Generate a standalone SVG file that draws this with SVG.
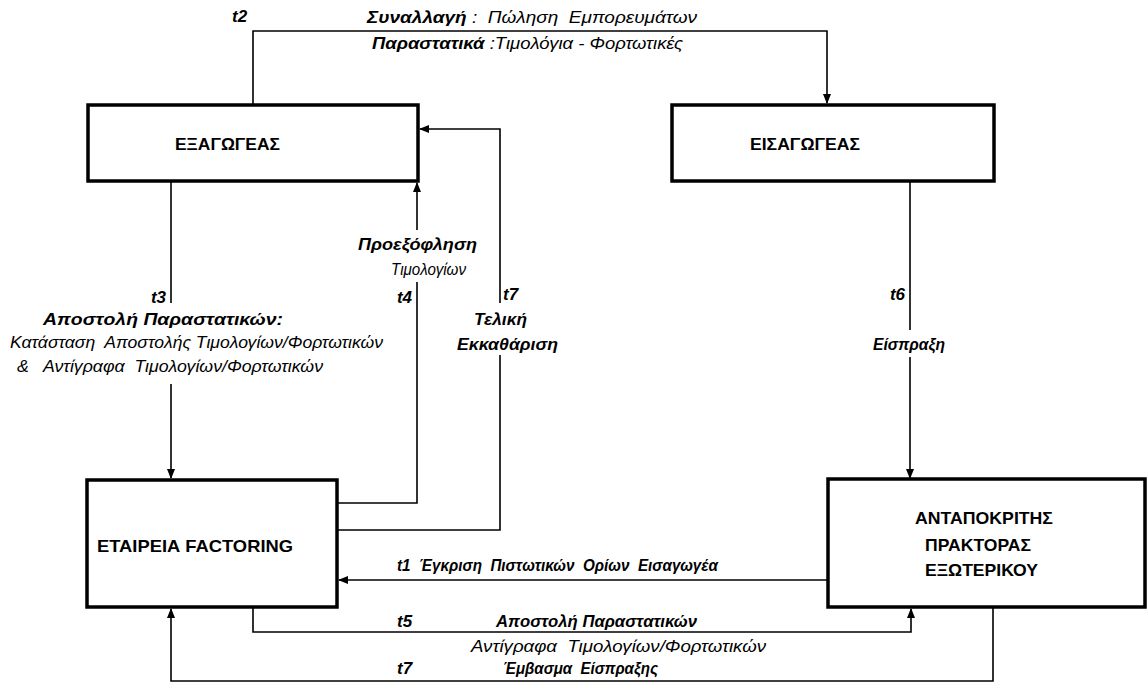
<svg xmlns="http://www.w3.org/2000/svg" width="1148" height="684" viewBox="0 0 1148 684">
<style>
text{font-family:"Liberation Sans",Arial,sans-serif;fill:#000;white-space:pre}
.box{fill:#fff;stroke:#000;stroke-width:3.5}
.bt{font-size:16.5px;font-weight:bold}
.lb{font-size:17px;font-style:italic;font-weight:bold}
.li{font-size:17px;font-style:italic}
.c{fill:none;stroke:#000;stroke-width:1.6}
</style>
<defs>
<marker id="ah" markerWidth="10" markerHeight="8" refX="9" refY="4" orient="auto" markerUnits="userSpaceOnUse">
<path d="M0,0 L10,4 L0,8 Z" fill="#000"/>
</marker>
</defs>
<rect width="1148" height="684" fill="#fff"/>
<g id="connectors">
<path class="c" d="M253,105 V31 H827 V103" marker-end="url(#ah)"/>
<path class="c" d="M171,181 V303 M171,384 V478" marker-end="url(#ah)"/>
<path class="c" d="M337,503 H417 V282 M417,230 V183" marker-end="url(#ah)"/>
<path class="c" d="M500,355 V530 H337 M500,303 V129 H420" marker-end="url(#ah)"/>
<path class="c" d="M910,181 V330 M910,357 V478" marker-end="url(#ah)"/>
<path class="c" d="M828,580 H339" marker-end="url(#ah)"/>
<path class="c" d="M253,607 V632 H911 V609" marker-end="url(#ah)"/>
<path class="c" d="M993,607 V681 H171 V609" marker-end="url(#ah)"/>
</g>
<g id="exagogeas">
<rect class="box" x="88" y="105" width="330" height="76"/>
<text class="bt" x="175" y="150" textLength="105" lengthAdjust="spacingAndGlyphs">ΕΞΑΓΩΓΕΑΣ</text>
</g>
<g id="eisagogeas">
<rect class="box" x="672" y="105" width="322" height="76"/>
<text class="bt" x="750" y="150" textLength="110" lengthAdjust="spacingAndGlyphs">ΕΙΣΑΓΩΓΕΑΣ</text>
</g>
<g id="factoring">
<rect class="box" x="87" y="480" width="250" height="127"/>
<text class="bt" x="97" y="552" textLength="196" lengthAdjust="spacingAndGlyphs">ΕΤΑΙΡΕΙΑ FACTORING</text>
</g>
<g id="antapokritis">
<rect class="box" x="828" y="479" width="317" height="128"/>
<text class="bt" x="915" y="524" textLength="138" lengthAdjust="spacingAndGlyphs">ΑΝΤΑΠΟΚΡΙΤΗΣ</text>
<text class="bt" x="925" y="551" textLength="106" lengthAdjust="spacingAndGlyphs">ΠΡΑΚΤΟΡΑΣ</text>
<text class="bt" x="925" y="576" textLength="113" lengthAdjust="spacingAndGlyphs">ΕΞΩΤΕΡΙΚΟΥ</text>
</g>
<g id="labels">
<text class="lb" x="232" y="22">t2</text>
<text x="367" y="23" textLength="330" lengthAdjust="spacingAndGlyphs"><tspan class="lb">Συναλλαγή</tspan><tspan class="li"> :  Πώληση  Εμπορευμάτων</tspan></text>
<text x="372" y="49" textLength="311" lengthAdjust="spacingAndGlyphs"><tspan class="lb">Παραστατικά</tspan><tspan class="li"> :Τιμολόγια - Φορτωτικές</tspan></text>
<text class="lb" x="166" y="303" text-anchor="end">t3</text>
<text class="lb" x="43" y="325" textLength="240" lengthAdjust="spacingAndGlyphs">Αποστολή Παραστατικών:</text>
<text class="li" x="10" y="348" textLength="373" lengthAdjust="spacingAndGlyphs">Κατάσταση  Αποστολής Τιμολογίων/Φορτωτικών</text>
<text class="li" x="17" y="372" textLength="306" lengthAdjust="spacingAndGlyphs">&amp;   Αντίγραφα  Τιμολογίων/Φορτωτικών</text>
<text class="lb" x="412" y="303" text-anchor="end">t4</text>
<text class="lb" x="358" y="250" textLength="119" lengthAdjust="spacingAndGlyphs">Προεξόφληση</text>
<text class="li" x="391" y="275" textLength="75" lengthAdjust="spacingAndGlyphs">Τιμολογίων</text>
<text class="lb" x="503" y="300">t7</text>
<text class="lb" x="474" y="325" textLength="53" lengthAdjust="spacingAndGlyphs">Τελική</text>
<text class="lb" x="457" y="350" textLength="101" lengthAdjust="spacingAndGlyphs">Εκκαθάριση</text>
<text class="lb" x="905" y="300" text-anchor="end">t6</text>
<text class="lb" x="873" y="350" textLength="72" lengthAdjust="spacingAndGlyphs">Είσπραξη</text>
<text class="lb" x="397" y="571" textLength="321" lengthAdjust="spacingAndGlyphs">t1  Έγκριση  Πιστωτικών  Ορίων  Εισαγωγέα</text>
<text class="lb" x="397" y="627">t5</text>
<text class="lb" x="496" y="627" textLength="201" lengthAdjust="spacingAndGlyphs">Αποστολή Παραστατικών</text>
<text class="li" x="471" y="652" textLength="295" lengthAdjust="spacingAndGlyphs">Αντίγραφα  Τιμολογίων/Φορτωτικών</text>
<text class="lb" x="397" y="674">t7</text>
<text class="lb" x="503" y="674" textLength="155" lengthAdjust="spacingAndGlyphs">Έμβασμα  Είσπραξης</text>
</g>
</svg>
